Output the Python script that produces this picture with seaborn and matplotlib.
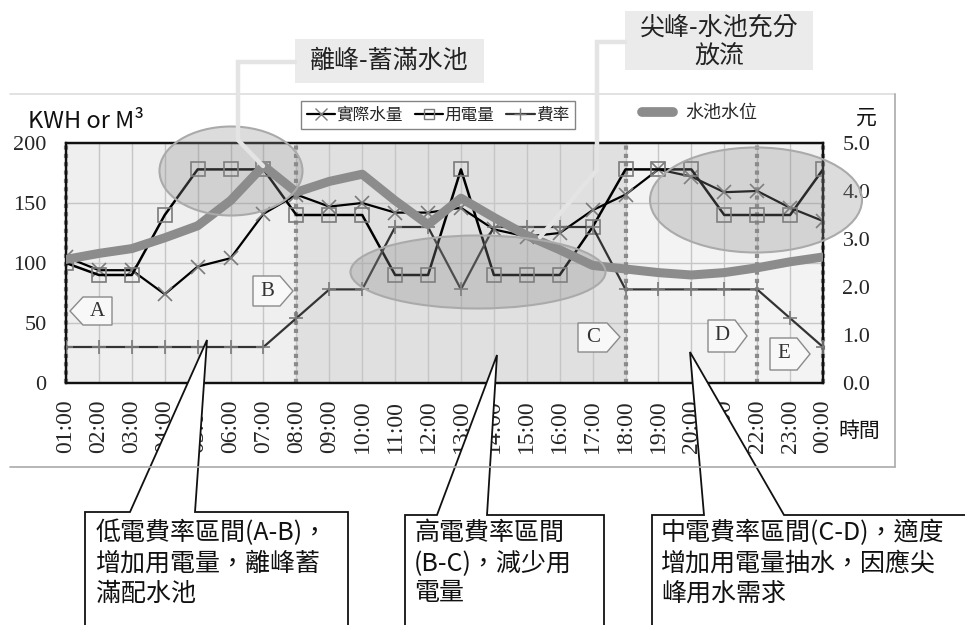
import matplotlib
matplotlib.use('Agg')
import matplotlib.pyplot as plt
import matplotlib.patches as mpatches
import matplotlib.transforms as mtransforms
from matplotlib.lines import Line2D
import numpy as np
import pandas as pd
import seaborn as sns

sns.set_theme(style='white')
plt.rcParams['font.family'] = ['Noto Sans CJK TC', 'DejaVu Sans']
plt.rcParams['axes.unicode_minus'] = False

# data
hours = ['01:00', '02:00', '03:00', '04:00', '05:00', '06:00', '07:00', '08:00',
         '09:00', '10:00', '11:00', '12:00', '13:00', '14:00', '15:00', '16:00',
         '17:00', '18:00', '19:00', '20:00', '21:00', '22:00', '23:00', '00:00']
water_used = [105, 94, 94, 74, 97, 104, 141, 157, 147, 150, 142, 142,
              146, 128, 122, 125, 144, 157, 178, 172, 159, 160, 146, 135]
power_used = [100, 90, 90, 140, 178, 178, 178, 140, 140, 140, 90, 90,
              178, 90, 90, 90, 130, 178, 178, 178, 140, 140, 140, 178]
power_rate = [0.75, 0.75, 0.75, 0.75, 0.75, 0.75, 0.75, 1.35, 1.95, 1.95, 3.25, 3.25,
              1.95, 3.25, 3.25, 3.25, 3.25, 1.95, 1.95, 1.95, 1.95, 1.95, 1.35, 0.75]
tank_level = [103, 108, 112, 121, 131, 152, 181, 159, 168, 174, 152, 132,
              154, 138, 123, 111, 98, 95, 92, 90, 92, 96, 101, 105]
labels = ['實際水量', '用電量', '費率', '水池水位']

df = pd.DataFrame({'idx': np.arange(len(hours)), 'hour': hours,
                   'water': water_used, 'power': power_used,
                   'rate': power_rate, 'level': tank_level})

W, H = 965, 625
fig = plt.figure(figsize=(W / 100, H / 100), dpi=100)
fig.patch.set_facecolor('white')
# pixel coordinates, origin top-left, for the annotations
px = mtransforms.Affine2D().scale(1 / W, -1 / H).translate(0, 1) + fig.transFigure

L, R, T, B = 66, 823, 143, 383
ax = fig.add_axes([L / W, 1 - B / H, (R - L) / W, (B - T) / H])
ax2 = ax.twinx()

serif = 'Liberation Serif'

# shaded rate periods
ax.axvspan(0, 7, color='#efefef', zorder=0.1, lw=0)
ax.axvspan(7, 17, color='#e0e0e0', zorder=0.1, lw=0)
ax.axvspan(17, 23, color='#f3f3f3', zorder=0.1, lw=0)
ax.set_xticks(df['idx'])
ax.set_yticks([0, 50, 100, 150, 200])
ax.grid(True, color='#c6c6c6', lw=1)
ax.set_axisbelow(True)
for xv in [0, 7, 17, 21, 23]:
    ax.axvline(xv, color='#8a8a8a', ls=(0, (1, 1)), lw=3, zorder=1.5, clip_on=False)

sns.lineplot(data=df, x='idx', y='water', ax=ax, color='black', lw=1.6,
             marker='x', ms=10, mec='#7a7a7a', mew=1.2, legend=False, zorder=3)
sns.lineplot(data=df, x='idx', y='power', ax=ax, color='black', lw=1.8,
             marker='s', ms=10, mfc='none', mec='#7a7a7a', mew=1.2, legend=False, zorder=3)
sns.lineplot(data=df, x='idx', y='rate', ax=ax2, color='#333333', lw=1.6,
             marker='+', ms=10, mec='#7a7a7a', mew=1.2, legend=False, zorder=3)
sns.lineplot(data=df, x='idx', y='level', ax=ax2, color='#8c8c8c', lw=6.5,
             transform=ax.transData, legend=False, zorder=4)

ax.set_xlim(0, 23)
ax.set_ylim(0, 200)
ax2.set_ylim(0, 5)
ax2.set_yticks([0, 1, 2, 3, 4, 5])
ax2.set_yticklabels([f'{v:.1f}' for v in [0, 1, 2, 3, 4, 5]],
                    fontfamily=serif, fontsize=16)
ax.set_yticklabels([str(v) for v in [0, 50, 100, 150, 200]],
                   fontfamily=serif, fontsize=16)
ax.set_xticklabels(hours, rotation=90, fontfamily=serif, fontsize=17)
ax.tick_params(axis='y', length=0, pad=14)
ax2.tick_params(axis='y', length=0, pad=14)
ax.tick_params(axis='x', direction='in', length=5, color='#777777', pad=12)
ax.set_xlabel('')
ax.set_ylabel('')
ax2.set_ylabel('')
for a in (ax, ax2):
    for s in a.spines.values():
        s.set_color('#111111')
        s.set_linewidth(1.6)

# axis titles
fig.text(28, 121, 'KWH or M³', transform=px, fontsize=17, ha='left', va='center', color='#111')
fig.text(866, 118, '元', transform=px, fontsize=15, ha='center', va='center', color='#111')
fig.text(859, 431, '時間', transform=px, fontsize=15, ha='center', va='center', color='#111')

# legends
h1 = [Line2D([], [], color='black', lw=1.6, marker='x', ms=8, mec='#7a7a7a'),
      Line2D([], [], color='black', lw=1.6, marker='s', ms=7, mfc='none', mec='#7a7a7a'),
      Line2D([], [], color='#333333', lw=1.6, marker='+', ms=9, mec='#7a7a7a')]
fig.legend(handles=h1, labels=labels[:3], loc='center', bbox_to_anchor=(438, 115),
           bbox_transform=px, ncol=3, frameon=True, fancybox=False, edgecolor='#666666',
           fontsize=12, handlelength=1.7, handletextpad=0.1, columnspacing=0.7,
           borderpad=0.35)
fig.legend(handles=[Line2D([], [], color='#8c8c8c', lw=7)], labels=labels[3:],
           loc='center', bbox_to_anchor=(700, 113), bbox_transform=px, frameon=False,
           fontsize=13, handlelength=1.7, handletextpad=0.7)

# outer chart frame
for pts, c in [([(10, 94), (895, 94)], '#dddddd'),
               ([(895, 94), (895, 467)], '#aaaaaa'),
               ([(10, 467), (895, 467)], '#aaaaaa')]:
    xs, ys = zip(*pts)
    fig.add_artist(Line2D(xs, ys, transform=px, color=c, lw=1.2))

# highlight ellipses
for (cx, cy, ew, eh) in [(231, 171, 143, 89), (478, 272, 255, 73), (756, 200, 212, 105)]:
    fig.add_artist(mpatches.Ellipse((cx, cy), ew, eh, transform=px,
                                    fc=(0.55, 0.55, 0.55, 0.3), ec='#aaaaaa', lw=1.5))

# pentagon tags
tags = [('A', [(70, 311), (83, 297), (112, 297), (112, 325), (83, 325)], (97, 311)),
        ('B', [(253, 276), (280, 276), (293, 291), (280, 306), (253, 306)], (267, 291)),
        ('C', [(578, 323), (607, 323), (620, 337), (607, 352), (578, 352)], (593, 337)),
        ('D', [(708, 320), (735, 320), (747, 336), (735, 352), (708, 352)], (722, 336)),
        ('E', [(770, 338), (797, 338), (810, 354), (797, 370), (770, 370)], (784, 354))]
for name, poly, (tx, ty) in tags:
    fig.add_artist(mpatches.Polygon(poly, closed=True, transform=px,
                                    fc='#f8f8f8', ec='#8a8a8a', lw=1))
    fig.text(tx, ty, name, transform=px, fontfamily=serif, fontsize=15,
             ha='center', va='center', color='#333')

# top call-outs
for xs, ys in [([295, 238, 238, 263], [62, 62, 140, 166]),
               ([625, 597, 597, 540], [42, 42, 170, 237])]:
    fig.add_artist(Line2D(xs, ys, transform=px, color='#e4e4e4', lw=3.2,
                          solid_joinstyle='miter'))
fig.add_artist(mpatches.Rectangle((295, 39), 189, 44, transform=px, fc='#ebebeb', ec='none'))
fig.text(389, 61, '離峰-蓄滿水池', transform=px, fontsize=18, ha='center', va='center', color='#222')
fig.add_artist(mpatches.Rectangle((625, 11), 188, 59, transform=px, fc='#ebebeb', ec='none'))
fig.text(719, 42, '尖峰-水池充分\n放流', transform=px, fontsize=18, ha='center', va='center',
         color='#222', linespacing=1.1)

# bottom call-outs
boxes = [([(85, 640), (85, 512), (130, 512), (207, 340), (195, 512), (348, 512), (348, 640)],
          (96, 520), '低電費率區間(A-B)，\n增加用電量，離峰蓄\n滿配水池'),
         ([(405, 640), (405, 515), (437, 515), (497, 355), (487, 515), (604, 515), (604, 640)],
          (414, 520), '高電費率區間\n(B-C)，減少用\n電量'),
         ([(652, 640), (652, 515), (704, 515), (690, 352), (784, 515), (975, 515), (975, 640)],
          (661, 520), '中電費率區間(C-D)，適度\n增加用電量抽水，因應尖\n峰用水需求')]
for poly, (tx, ty), txt in boxes:
    fig.add_artist(mpatches.Polygon(poly, closed=True, transform=px,
                                    fc='white', ec='#111111', lw=1.3))
    fig.text(tx, ty, txt, transform=px, fontsize=18, ha='left', va='top',
             color='#111', linespacing=1.2)

fig.savefig('out.png', dpi=100)
